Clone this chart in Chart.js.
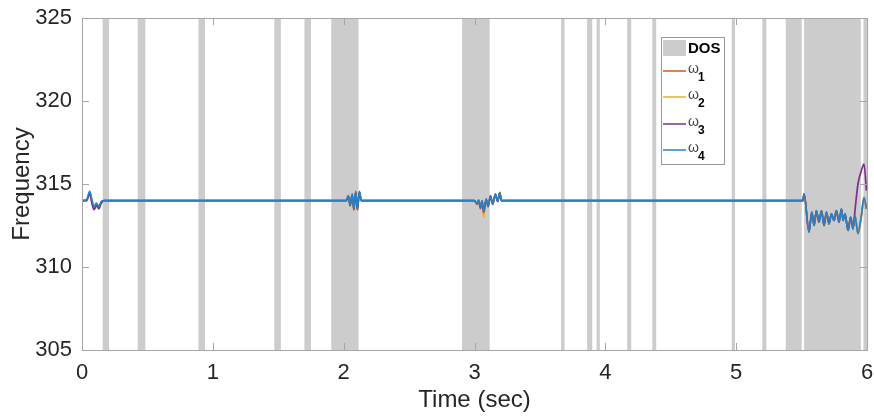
<!DOCTYPE html>
<html>
<head>
<meta charset="utf-8">
<script src="https://cdn.jsdelivr.net/npm/chart.js@4.4.1/dist/chart.umd.min.js"></script>
<style>
  html, body { margin: 0; padding: 0; background: #fff; }
  #wrap { width: 874px; height: 420px; }
</style>
</head>
<body>
<div id="wrap"><canvas id="freqChart" width="874" height="420"></canvas></div>
<script>
// time samples (sec) - flat at 314 between the bursts
const timeSec = [
  0, 0.035, 0.059, 0.077, 0.092, 0.11, 0.128, 0.148, 0.168, 0.18,
  2.0, 2.02, 2.035, 2.05, 2.065, 2.078, 2.092, 2.105, 2.12, 2.135,
  3.0, 3.02, 3.032, 3.045, 3.058, 3.07, 3.089, 3.104, 3.122, 3.139, 3.16, 3.177, 3.193, 3.206,
  5.51, 5.519, 5.557, 5.578, 5.596, 5.613, 5.633, 5.652, 5.672, 5.69, 5.71, 5.728, 5.748,
  5.766, 5.786, 5.805, 5.817, 5.832, 5.855, 5.875, 5.893, 5.908, 5.931, 5.957, 5.977, 5.996
];

const omega1 = [
  314, 314.0, 314.45, 313.85, 313.5, 313.75, 313.55, 313.9, 314.0, 314.0,
  314.0, 314.0, 314.28, 313.72, 314.38, 313.48, 314.52, 313.48, 314.52, 314.0,
  314.0, 313.78, 314.02, 313.55, 313.97, 313.2, 314.07, 313.65, 314.27, 313.78, 314.37, 313.95, 314.47, 314.0,
  314.0, 314.38, 312.15, 313.28, 312.52, 313.38, 312.72, 313.38, 312.52, 313.28, 312.62, 313.18, 312.82,
  313.38, 312.72, 313.48, 312.82, 313.18, 312.22, 312.98, 312.32, 313.08, 312.05, 313.08, 314.15, 313.5
];
const omega2 = [
  314, 314.02, 314.5, 313.9, 313.55, 313.8, 313.6, 313.92, 314.0, 314.0,
  314.0, 314.0, 314.25, 313.65, 314.35, 313.4, 314.5, 313.4, 314.5, 314.0,
  314.0, 313.75, 314.0, 313.45, 313.95, 313.0, 314.05, 313.6, 314.25, 313.75, 314.35, 313.95, 314.45, 314.0,
  314.0, 314.36, 312.12, 313.26, 312.48, 313.36, 312.68, 313.36, 312.48, 313.26, 312.58, 313.16, 312.78,
  313.36, 312.68, 313.46, 312.78, 313.16, 312.18, 312.96, 312.28, 313.06, 312.02, 313.06, 314.1, 313.48
];
const omega3 = [
  314, 314.0, 314.4, 313.8, 313.45, 313.7, 313.5, 313.85, 314.0, 314.0,
  314.0, 314.0, 314.25, 313.7, 314.35, 313.45, 314.5, 313.45, 314.5, 314.0,
  314.0, 313.8, 314.0, 313.55, 313.95, 313.3, 314.05, 313.65, 314.25, 313.8, 314.35, 313.95, 314.45, 314.0,
  314.0, 314.4, 312.1, 313.3, 312.5, 313.4, 312.7, 313.4, 312.5, 313.3, 312.6, 313.2, 312.8,
  313.4, 312.7, 313.5, 312.8, 313.2, 312.2, 313.0, 312.3, 313.4, 315.0, 315.8, 316.2, 314.6
];
const omega4 = [
  314, 314.05, 314.55, 314.0, 313.65, 313.85, 313.65, 313.95, 314.0, 314.0,
  314.0, 314.0, 314.3, 313.75, 314.4, 313.5, 314.55, 313.5, 314.55, 314.0,
  314.0, 313.8, 314.05, 313.6, 314.0, 313.35, 314.1, 313.7, 314.3, 313.8, 314.4, 313.95, 314.5, 314.0,
  314.0, 314.4, 312.1, 313.3, 312.5, 313.4, 312.7, 313.4, 312.5, 313.3, 312.6, 313.2, 312.8,
  313.4, 312.7, 313.5, 312.8, 313.2, 312.2, 313.0, 312.3, 313.1, 312.0, 313.1, 314.2, 313.5
];

// DOS attack intervals (sec)
const dosStart = [0.158, 0.426, 0.89, 1.47, 1.70, 1.905, 2.905, 3.662, 3.861, 3.933, 4.167, 4.359, 4.966, 5.20, 5.379, 5.519, 5.973];
const dosEnd   = [0.207, 0.484, 0.94, 1.52, 1.75, 2.114, 3.116, 3.688, 3.90, 3.958, 4.198, 4.389, 4.991, 5.231, 5.501, 5.953, 6.0];

const xTicks = [0, 1, 2, 3, 4, 5, 6];
const yTicks = [305, 310, 315, 320, 325];
const seriesSubs = ['1', '2', '3', '4'];
const seriesColors = ['#D95319', '#EDB120', '#7E2F8E', '#2a80c4'];

const allSeries = [omega1, omega2, omega3, omega4];
const axisGray = '#a6a6a6';
const fontFam = '"Liberation Sans", Arial, sans-serif';

const datasets = allSeries.map((vals, i) => ({
  label: '\u03c9' + seriesSubs[i],
  data: timeSec.map((t, k) => ({ x: t, y: vals[k] })),
  borderColor: seriesColors[i],
  borderWidth: 1.7,
  pointRadius: 0,
  cubicInterpolationMode: 'monotone',
  fill: false,
  order: 3 - i   // omega4 drawn on top
}));

// grey DOS bands behind the lines
const dosBands = {
  id: 'dosBands',
  beforeDatasetsDraw(chart) {
    const { ctx, chartArea: a, scales: { x } } = chart;
    ctx.save();
    ctx.fillStyle = '#cccccc';
    dosStart.forEach((s, i) => {
      const x0 = x.getPixelForValue(s);
      const x1 = x.getPixelForValue(dosEnd[i]);
      ctx.fillRect(x0, a.top, x1 - x0, a.bottom - a.top);
    });
    ctx.restore();
  }
};

// matlab style box with inward ticks + legend
const boxAndLegend = {
  id: 'boxAndLegend',
  afterDatasetsDraw(chart) {
    const { ctx, chartArea: a, scales: { x, y } } = chart;
    ctx.save();
    ctx.strokeStyle = axisGray;
    ctx.lineWidth = 1;
    ctx.strokeRect(Math.round(a.left) + 0.5, Math.round(a.top) + 0.5,
      Math.round(a.right - a.left), Math.round(a.bottom - a.top));
    ctx.beginPath();
    xTicks.forEach(v => {
      const px = Math.round(x.getPixelForValue(v)) + 0.5;
      ctx.moveTo(px, a.bottom); ctx.lineTo(px, a.bottom - 7);
      ctx.moveTo(px, a.top); ctx.lineTo(px, a.top + 7);
    });
    yTicks.forEach(v => {
      const py = Math.round(y.getPixelForValue(v)) + 0.5;
      ctx.moveTo(a.left, py); ctx.lineTo(a.left + 7, py);
      ctx.moveTo(a.right, py); ctx.lineTo(a.right - 7, py);
    });
    ctx.stroke();

    // legend
    const lx = 661, ly = 37, lw = 63, lh = 127;
    ctx.fillStyle = '#ffffff';
    ctx.fillRect(lx, ly, lw, lh);
    ctx.strokeStyle = '#999999';
    ctx.strokeRect(lx + 0.5, ly + 0.5, lw, lh);
    ctx.fillStyle = '#cccccc';
    ctx.fillRect(663, 40, 23, 16);
    ctx.fillStyle = '#000000';
    ctx.font = 'bold 15px ' + fontFam;
    ctx.textBaseline = 'middle';
    ctx.textAlign = 'left';
    ctx.fillText('DOS', 688, 49);
    const rowY = [71, 97, 124, 150];
    seriesSubs.forEach((s, i) => {
      ctx.strokeStyle = seriesColors[i];
      ctx.lineWidth = 1.5;
      ctx.beginPath();
      ctx.moveTo(663, rowY[i]); ctx.lineTo(686, rowY[i]);
      ctx.stroke();
      ctx.fillStyle = '#444444';
      ctx.font = '14px ' + fontFam;
      ctx.fillText('\u03c9', 688, rowY[i] - 2);
      ctx.fillStyle = '#000000';
      ctx.font = 'bold 12px ' + fontFam;
      ctx.fillText(s, 698, rowY[i] + 7);
    });
    ctx.restore();
  }
};

const ctx = document.getElementById('freqChart').getContext('2d');
new Chart(ctx, {
  type: 'line',
  data: { datasets: datasets },
  options: {
    responsive: false,
    animation: false,
    devicePixelRatio: 1,
    layout: { padding: { top: 18, right: 7, left: 0, bottom: 0 } },
    plugins: { legend: { display: false }, tooltip: { enabled: false } },
    scales: {
      x: {
        type: 'linear',
        min: 0, max: 6,
        afterFit: s => { s.height = 70; s.paddingLeft = 0; s.paddingRight = 0; },
        afterBuildTicks: s => { s.ticks = xTicks.map(v => ({ value: v })); },
        grid: { display: false, drawTicks: false },
        border: { display: false },
        ticks: { padding: 10, color: '#262626', font: { size: 22, family: fontFam } },
        title: { display: true, text: 'Time (sec)', color: '#262626', padding: { top: 0, bottom: 5 },
          font: { size: 24, family: fontFam } }
      },
      y: {
        min: 305, max: 325,
        afterFit: s => { s.width = 82; s.paddingTop = 0; s.paddingBottom = 0; },
        afterBuildTicks: s => { s.ticks = yTicks.map(v => ({ value: v })); },
        grid: { display: false, drawTicks: false },
        border: { display: false },
        ticks: { padding: 10, color: '#262626', font: { size: 22, family: fontFam } },
        title: { display: true, text: 'Frequency', color: '#262626', padding: { top: 8, bottom: 0 },
          font: { size: 24, family: fontFam } }
      }
    }
  },
  plugins: [dosBands, boxAndLegend]
});
</script>
</body>
</html>
